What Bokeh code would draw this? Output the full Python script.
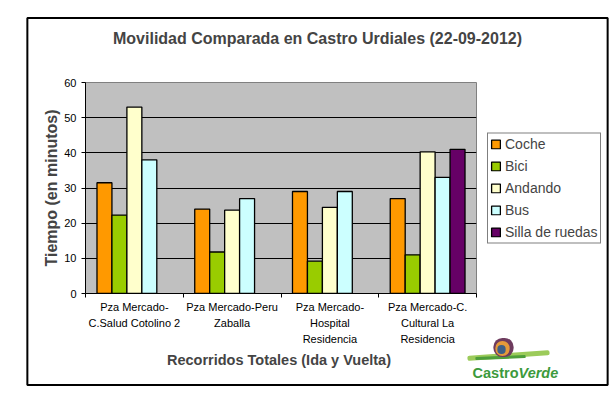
import math
from bokeh.plotting import figure
from bokeh.models import (ColumnDataSource, FixedTicker, Legend, LegendItem, Label, Range1d)
from bokeh.transform import dodge
from bokeh.embed import file_html
from bokeh.resources import INLINE

# ---------------- data ----------------
routes = [
    "Pza Mercado-\nC.Salud Cotolino 2",
    "Pza Mercado-Peru\nZaballa",
    "Pza Mercado-\nHospital\nResidencia",
    "Pza Mercado-C.\nCultural La\nResidencia",
]
modes = ["Coche", "Bici", "Andando", "Bus", "Silla de ruedas"]
coche = [31.5, 24.0, 29.0, 27.0]
bici = [22.3, 11.8, 9.2, 11.0]
andando = [53.0, 23.7, 24.5, 40.3]
bus = [38.0, 27.0, 29.0, 33.0]
silla = [None, None, None, 41.0]
y_ticks = [0, 10, 20, 30, 40, 50, 60]

title = "Movilidad Comparada en Castro Urdiales (22-09-2012)"
x_title = "Recorridos  Totales (Ida y Vuelta)"
y_title = "Tiempo (en minutos)"

colors = ["#FF9900", "#99CC00", "#FFFFCC", "#CCFFFF", "#660066"]
FONT = "Liberation Sans"

nan = float("nan")
series = [coche, bici, andando, bus, silla]
data = {"xc": [i + 0.5 for i in range(len(routes))]}
for m, vals in zip(modes, series):
    data[m] = [nan if v is None else v for v in vals]
source = ColumnDataSource(data)

FL, FT, FW, FH = 85, 82, 391, 211   # frame placement in pixels
p = figure(frame_width=FW, frame_height=FH, output_backend="svg", toolbar_location=None,
           x_range=Range1d(0, len(routes)), y_range=Range1d(0, 60),
           min_border_left=FL, min_border_right=135, min_border_top=FT, min_border_bottom=100)
p.background_fill_color = "#C0C0C0"
p.border_fill_color = "white"
p.outline_line_color = "#808080"
p.outline_line_width = 1


def dx(px):  # page pixel -> data x (decorations only)
    return (px - FL) / FW * len(routes)


def dy(py):  # page pixel -> data y (decorations only)
    return (FT + FH - py) / FH * 60


bw = 0.153
offsets = [-2 * bw, -bw, 0, bw, 2 * bw]
renderers = []
for m, c, off in zip(modes, colors, offsets):
    r = p.vbar(x=dodge("xc", off), top=m, width=bw, source=source,
               fill_color=c, line_color="black", line_width=1.3)
    renderers.append(r)

# axes
p.xaxis.ticker = FixedTicker(ticks=data["xc"], minor_ticks=list(range(len(routes) + 1)))
p.xaxis.major_label_overrides = {x: lab for x, lab in zip(data["xc"], routes)}
p.xaxis.major_tick_out = 0
p.xaxis.major_tick_in = 0
p.xaxis.minor_tick_out = 4
p.xaxis.minor_tick_in = 0
p.xaxis.minor_tick_line_color = "black"
p.xaxis.major_label_standoff = 3
p.xaxis.major_label_text_font = FONT
p.xaxis.major_label_text_font_size = "11px"
p.xaxis.major_label_text_line_height = 1.36
p.xaxis.major_label_text_color = "black"
p.xaxis.axis_label = x_title
p.xaxis.axis_label_text_font = FONT
p.xaxis.axis_label_text_font_size = "14.5px"
p.xaxis.axis_label_text_font_style = "bold"
p.xaxis.axis_label_standoff = 4
p.xaxis.axis_line_color = "black"

p.yaxis.ticker = FixedTicker(ticks=y_ticks)
p.yaxis.minor_tick_line_color = None
p.yaxis.major_tick_out = 4
p.yaxis.major_tick_in = 0
p.yaxis.major_tick_line_color = "black"
p.yaxis.major_label_standoff = 5
p.yaxis.major_label_text_font = FONT
p.yaxis.major_label_text_font_size = "11px"
p.yaxis.major_label_text_color = "black"
p.yaxis.axis_label = y_title
p.yaxis.axis_label_text_font = FONT
p.yaxis.axis_label_text_font_size = "16px"
p.yaxis.axis_label_text_font_style = "bold"
p.yaxis.axis_label_standoff = 1
p.yaxis.axis_line_color = "black"

p.xgrid.grid_line_color = None
p.ygrid.ticker = FixedTicker(ticks=y_ticks[1:-1])
p.ygrid.grid_line_color = "black"
p.ygrid.grid_line_width = 1

# legend
legend = Legend(items=[LegendItem(label=m, renderers=[r]) for m, r in zip(modes, renderers)],
                location="center_left", margin=11, padding=2, spacing=5,
                glyph_width=11, glyph_height=11, label_height=17, label_standoff=4,
                label_text_font=FONT, label_text_font_size="14px",
                border_line_color="black", border_line_width=1,
                background_fill_color="white", background_fill_alpha=1)
p.add_layout(legend, "right")

# ---- annotations outside the frame (placed in a side panel so they are not clipped) ----
p.add_layout(Label(x=dx(317), y=dy(38), text=title, text_align="center", text_baseline="middle",
                   text_font=FONT, text_font_size="16px", text_font_style="bold"), "below")

# outer border drawn as the padded box of an (invisible) label; padding = (horizontal, vertical)
p.add_layout(Label(x=dx(317), y=dy(201), text=" ", text_font_size="1px",
                   text_align="center", text_baseline="middle",
                   padding=(290, 183), border_line_color="black", border_line_width=2,
                   background_fill_alpha=0), "below")


def blob(cx, cy, w, h, color, angle=0.0):
    p.add_layout(Label(x=dx(cx), y=dy(cy), text=" ", text_font_size="1px",
                       text_align="center", text_baseline="middle", angle=angle,
                       padding=(w // 2, h // 2), border_radius=min(w, h) // 2,
                       background_fill_color=color, background_fill_alpha=1,
                       border_line_color=None), "below")


# logo: green swoosh + snail shell
blob(508, 355, 82, 4, "#9CCB5A", angle=0.07)
blob(500, 357, 50, 3, "#4E9E3A", angle=0.04)
blob(503, 347, 20, 19, "#6E3B5E")
blob(502, 348, 15, 14, "#E59A3A")
blob(501, 349, 8, 8, "#3E5F86")

p.add_layout(Label(x=dx(518), y=dy(372), text="Castro", text_align="right", text_baseline="middle",
                   text_font=FONT, text_font_size="14.5px", text_font_style="bold",
                   text_color="#3C9A3C"), "below")
p.add_layout(Label(x=dx(518), y=dy(372), text="Verde", text_align="left", text_baseline="middle",
                   text_font=FONT, text_font_size="14.5px", text_font_style="bold italic",
                   text_color="#3C9A3C"), "below")

open("out.html", "w").write(file_html(p, INLINE))
